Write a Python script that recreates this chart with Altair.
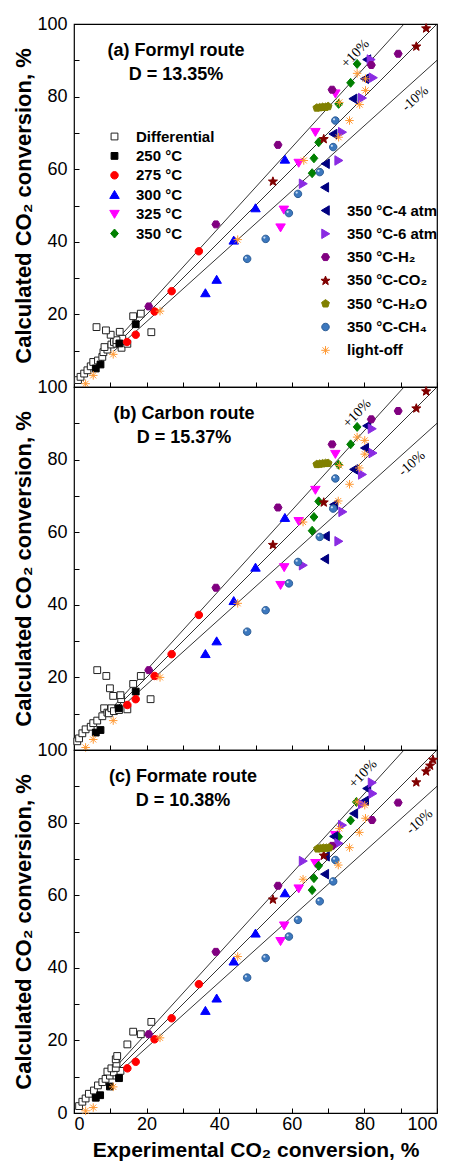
import math
import altair as alt
import pandas as pd

FONT = "Liberation Sans, Arial, sans-serif"
SERIF = "Liberation Serif, Times New Roman, serif"

# ---- series names ----
LEFT_SERIES = ["Differential", "250 °C", "275 °C", "300 °C", "325 °C", "350 °C"]
RIGHT_SERIES = ["350 °C-4 atm", "350 °C-6 atm", "350 °C-H₂", "350 °C-CO₂",
                "350 °C-H₂O", "350 °C-CH₄", "light-off"]

# ---- (a) Formyl route: (experimental, calculated) ----
a_diff = [(1.1, 1.9), (1.8, 2.8), (2.8, 3.7), (3.7, 4.6), (4.6, 5.7), (5.3, 6.9), (6.6, 7.3),
          (7.8, 8.3), (8.1, 9.6), (9.2, 10.3), (8.4, 11.0), (10.3, 11.7), (11.0, 12.4),
          (11.7, 11.9), (13.1, 10.8), (14.7, 11.9), (13.3, 13.3), (11.7, 12.9), (10.1, 14.4),
          (12.6, 15.2), (8.8, 15.6), (6.2, 16.5), (16.3, 19.5), (18.4, 20.2), (21.3, 15.1)]
a_250 = [(6.0, 5.1), (7.3, 6.2), (12.5, 12.0), (17.0, 17.3)]
a_275 = [(14.6, 12.4), (17.0, 14.4), (22.2, 20.8), (26.9, 26.4), (34.4, 37.4)]
a_300 = [(36.2, 25.9), (39.3, 29.6), (44.0, 40.4), (50.0, 49.3), (58.1, 62.7)]
a_325 = [(56.9, 43.9), (57.8, 48.8), (61.9, 61.7), (66.5, 70.2), (72.0, 80.8)]
a_350 = [(65.6, 58.9), (66.1, 63.0), (67.4, 67.4), (72.9, 78.0), (76.2, 83.8), (78.0, 89.0)]
a_4atm = [(69.1, 55.0), (69.3, 61.5), (71.4, 69.7), (76.9, 79.4), (80.1, 84.9), (80.7, 90.2)]
a_6atm = [(63.1, 56.0), (72.9, 62.4), (73.9, 70.2), (79.4, 79.6), (82.4, 85.2), (81.8, 90.2)]
a_h2 = [(20.6, 22.2), (39.1, 44.8), (56.2, 66.7), (71.1, 81.9), (81.9, 88.7), (89.3, 91.8)]
a_co2 = [(54.8, 56.7), (68.8, 68.4), (94.3, 93.9), (97.0, 98.9)]
a_h2o = [(66.9, 76.9), (67.7, 77.0), (68.5, 77.1), (69.3, 77.1), (70.0, 77.3)]
a_ch4 = [(47.7, 35.3), (52.8, 40.8), (59.2, 47.9), (61.7, 53.2), (67.7, 59.2), (71.4, 66.1), (72.0, 73.4)]
a_light = [(3.2, 0.9), (5.3, 3.2), (10.8, 9.0), (23.7, 20.9), (45.1, 40.6), (63.3, 62.4), (72.9, 68.8),
           (75.9, 73.4), (73.1, 78.4), (78.7, 77.8), (80.3, 81.7), (80.3, 84.9), (78.0, 86.4)]

# ---- (b) Carbon route ----
b_diff = [(0.9, 2.4), (1.4, 3.2), (2.3, 4.6), (3.2, 5.7), (4.6, 6.4), (5.3, 7.4), (6.4, 8.1),
          (7.8, 9.3), (8.3, 11.5), (9.2, 10.3), (9.6, 10.1), (10.3, 11.5), (11.0, 10.7),
          (12.4, 11.0), (14.7, 11.2), (13.0, 14.0), (12.8, 15.1), (10.8, 14.9), (9.9, 17.0),
          (8.9, 20.4), (6.4, 22.0), (16.3, 18.2), (18.4, 20.4), (21.1, 14.0)]
b_250 = [(6.0, 4.8), (7.3, 5.5), (12.3, 11.5), (17.0, 16.1)]
b_275 = [(14.7, 12.4), (17.0, 14.0), (22.2, 20.4), (26.9, 26.4), (34.4, 37.2)]
b_300 = [(36.2, 26.5), (39.3, 30.0), (44.0, 41.1), (50.0, 50.3), (58.1, 64.0)]
b_325 = [(56.9, 45.4), (57.9, 50.3), (61.9, 63.0), (66.5, 71.6), (72.0, 81.5)]
b_350 = [(65.6, 60.4), (66.1, 64.2), (67.4, 68.5), (72.9, 78.6), (76.2, 84.2), (78.0, 89.0)]
b_4atm = [(69.1, 52.6), (69.3, 58.9), (71.6, 67.6), (77.1, 77.3), (80.1, 83.2), (80.7, 89.3)]
b_6atm = [(63.1, 50.9), (72.9, 57.5), (74.0, 65.6), (79.4, 75.9), (82.3, 81.8), (82.1, 88.5)]
b_h2 = [(20.6, 22.0), (39.1, 44.7), (56.2, 66.8), (71.1, 84.2), (81.9, 91.1), (89.3, 93.4)]
b_co2 = [(54.8, 56.6), (68.8, 68.3), (94.3, 94.2), (97.0, 98.9)]
b_h2o = [(66.9, 78.7), (67.7, 78.8), (68.5, 78.9), (69.3, 79.0), (70.0, 79.0)]
b_ch4 = [(47.7, 32.6), (52.8, 38.5), (59.2, 45.9), (61.7, 51.8), (67.7, 58.7), (71.4, 66.5), (72.0, 74.8)]
b_light = [(3.2, 0.7), (5.3, 2.9), (10.8, 8.1), (23.7, 20.0), (45.1, 40.4), (63.1, 62.8), (72.8, 68.6),
           (75.9, 73.2), (73.1, 78.4), (78.6, 77.7), (80.1, 81.5), (80.1, 85.3), (78.0, 86.2)]

# ---- (c) Formate route ----
c_diff = [(1.4, 1.9), (2.3, 3.1), (3.2, 4.0), (4.1, 5.3), (5.5, 6.2), (6.6, 7.6), (7.8, 8.5),
          (8.7, 9.4), (9.9, 10.3), (11.7, 10.3), (9.2, 11.4), (11.0, 11.2), (12.8, 11.6),
          (10.3, 12.3), (11.5, 12.4), (11.7, 13.6), (11.5, 14.8), (11.9, 15.7), (14.7, 18.9),
          (16.3, 22.4), (18.4, 21.7), (21.3, 25.1)]
c_250 = [(6.0, 4.2), (7.2, 4.9), (9.9, 7.3), (12.4, 9.6)]
c_275 = [(14.7, 12.3), (17.0, 14.1), (22.2, 20.3), (26.9, 26.1), (34.4, 35.5)]
c_300 = [(36.2, 28.2), (39.3, 31.6), (44.0, 41.8), (50.0, 49.5), (58.1, 60.6)]
c_325 = [(56.9, 47.3), (57.9, 51.6), (61.9, 61.8), (66.5, 68.8), (72.0, 76.5)]
c_350 = [(65.6, 61.4), (66.1, 64.7), (67.4, 68.1), (72.9, 76.1), (76.2, 80.6), (77.8, 85.7)]
c_4atm = [(69.1, 65.8), (69.3, 70.7), (71.6, 76.2), (77.1, 82.5), (80.1, 86.0), (80.7, 89.4)]
c_6atm = [(63.1, 69.4), (72.9, 74.3), (73.9, 79.3), (79.4, 85.1), (82.3, 88.0), (82.1, 91.0)]
c_h2 = [(20.6, 21.7), (39.1, 44.4), (56.2, 62.6), (71.1, 73.6), (82.1, 80.7), (89.3, 85.5)]
c_co2 = [(54.8, 58.9), (68.8, 71.0), (94.3, 91.2), (97.0, 94.2), (98.1, 95.8), (98.9, 97.4)]
c_h2o = [(67.1, 72.8), (67.9, 72.9), (68.7, 73.0), (69.5, 73.0), (70.3, 73.1)]
c_ch4 = [(47.7, 37.3), (52.8, 42.7), (59.2, 48.6), (61.7, 53.2), (67.7, 58.3), (71.4, 63.8), (72.0, 69.7)]
c_light = [(3.2, 0.6), (5.3, 1.5), (10.8, 7.2), (23.7, 20.7), (45.1, 43.1), (63.1, 64.4), (72.8, 68.3),
           (75.9, 73.1), (73.1, 78.4), (78.6, 77.3), (80.3, 81.2), (80.1, 84.8), (78.0, 85.7)]

# ---- panel text ----
PANEL_TITLES = ["(a) Formyl route", "(b) Carbon route", "(c) Formate route"]
PANEL_D = ["D = 13.35%", "D = 15.37%", "D = 10.38%"]
# +10% / -10% label anchors (data units) per panel
PLUS_LABEL = [(77.5, 91.8), (78.0, 92.7), (79.6, 93.4)]
MINUS_LABEL = [(94.0, 79.4), (93.1, 78.9), (95.2, 80.2)]

# parity lines: slope, start x, end x
LINE_SLOPE = [1.1, 1.0, 0.9]
LINE_X0 = [11.0, 11.0, 11.0]
LINE_X1 = [100 / 1.1, 100.0, 100.0]

TICKS = list(range(0, 101, 10))


# ---- marker paths in the unit square ----
def polygon(n, r, rot=-90.0):
    pts = []
    for i in range(n):
        a = math.radians(rot + i * 360.0 / n)
        pts.append((r * math.cos(a), r * math.sin(a)))
    return "M" + "L".join(f"{x:.3f},{y:.3f}" for x, y in pts) + "Z"


def star(r_out=0.95, r_in=0.4):
    pts = []
    for i in range(10):
        r = r_out if i % 2 == 0 else r_in
        a = math.radians(-90 + i * 36)
        pts.append((r * math.cos(a), r * math.sin(a) + 0.08))
    return "M" + "L".join(f"{x:.3f},{y:.3f}" for x, y in pts) + "Z"


def circle(r):
    return f"M{-r},0A{r},{r} 0 1,0 {r},0A{r},{r} 0 1,0 {-r},0Z"


SQUARE = "M-0.68,-0.68L0.68,-0.68L0.68,0.68L-0.68,0.68Z"
TRI_UP = "M0,-0.85L0.95,0.75L-0.95,0.75Z"
TRI_DOWN = "M0,0.85L0.95,-0.75L-0.95,-0.75Z"
TRI_LEFT = "M-0.85,0L0.75,-0.95L0.75,0.95Z"
TRI_RIGHT = "M0.85,0L-0.75,-0.95L-0.75,0.95Z"
DIAMOND = "M0,-0.9L0.78,0L0,0.9L-0.78,0Z"
ASTERISK = ("M-0.85,0L0.85,0M0,-0.85L0,0.85"
            "M-0.6,-0.6L0.6,0.6M-0.6,0.6L0.6,-0.6")

LEFT_SHAPES = [SQUARE, SQUARE, circle(0.75), TRI_UP, TRI_DOWN, DIAMOND]
LEFT_FILL = ["white", "black", "#FF0000", "#0000FF", "#FF00FF", "#008000"]
LEFT_STROKE = ["#222222", "black", "#FF0000", "#0000FF", "#FF00FF", "#008000"]

RIGHT_SHAPES = [TRI_LEFT, TRI_RIGHT, polygon(6, 0.8, 0), star(), polygon(5, 0.82),
                circle(0.75), ASTERISK]
RIGHT_FILL = ["#000080", "#8A2BE2", "#800080", "#800000", "#808000", "#3C78BE", "#FF9933"]
RIGHT_STROKE = ["#000080", "#8A2BE2", "#800080", "#800000", "#808000", "#2B5C96", "#FF9933"]

XS = alt.Scale(domain=[0, 100], nice=False, zero=False)
YS = alt.Scale(domain=[0, 100], nice=False, zero=False)

LABEL_EXPR = "datum.value % 20 == 0 ? datum.label : ''"
# upper panels: the 0 at the bottom edge sits under the next panel's 100
LABEL_EXPR_NO0 = "datum.value % 20 == 0 && datum.value > 0 ? datum.label : ''"


def frame(names, groups):
    rows = []
    for name, pts in zip(names, groups):
        for x, y in pts:
            rows.append({"series": name, "x": x, "y": y})
    return pd.DataFrame(rows)


def legend(x, y, row_pad):
    return alt.Legend(orient="none", legendX=x, legendY=y, title=None, direction="vertical",
                      labelFont=FONT, labelFontSize=15, labelFontWeight="bold",
                      labelColor="black", labelOffset=14, rowPadding=row_pad,
                      symbolSize=100, symbolStrokeWidth=1, symbolOpacity=1, labelLimit=300)


def panel(i, left_groups, right_groups, bottom):
    if bottom:
        x_axis = alt.Axis(values=TICKS, labelExpr=LABEL_EXPR, tickSize=5, offset=-5,
                          domain=False, grid=False, labelPadding=2, labelFont=FONT,
                          labelFontSize=18, labelColor="black", tickColor="black",
                          title="Experimental CO₂ conversion, %", titleFont=FONT,
                          titleFontSize=21, titleFontWeight="bold", titleColor="black",
                          titlePadding=6)
    else:
        x_axis = alt.Axis(values=TICKS, labels=False, tickSize=5, offset=-5, domain=False,
                          grid=False, tickColor="black", title=None)
    y_axis = alt.Axis(values=TICKS, labelExpr=LABEL_EXPR if bottom else LABEL_EXPR_NO0,
                      tickSize=5, offset=-5,
                      domain=False, grid=False, labelPadding=7, labelFont=FONT,
                      labelFontSize=18, labelColor="black", tickColor="black",
                      title="Calculated CO₂ conversion, %", titleFont=FONT,
                      titleFontSize=22, titleFontWeight="bold", titleColor="black",
                      titlePadding=1)

    def xq(field):
        return alt.X(field, scale=XS, axis=x_axis)

    def yq(field):
        return alt.Y(field, scale=YS, axis=y_axis)

    lines = pd.DataFrame({
        "x0": LINE_X0,
        "x1": LINE_X1,
        "y0": [s * x for s, x in zip(LINE_SLOPE, LINE_X0)],
        "y1": [s * x for s, x in zip(LINE_SLOPE, LINE_X1)],
    })
    rules = alt.Chart(lines).mark_rule(color="black", strokeWidth=0.8).encode(
        x=xq("x0:Q"), y=yq("y0:Q"), x2="x1:Q", y2="y1:Q",
    )

    def point_layer(df, names, fills, strokes, shapes, leg):
        return alt.Chart(df).mark_point(size=100, opacity=1, fillOpacity=1, strokeWidth=1).encode(
            x=xq("x:Q"),
            y=yq("y:Q"),
            fill=alt.Fill("series:N", scale=alt.Scale(domain=names, range=fills), legend=leg),
            stroke=alt.Stroke("series:N", scale=alt.Scale(domain=names, range=strokes), legend=leg),
            shape=alt.Shape("series:N", scale=alt.Scale(domain=names, range=shapes), legend=leg),
        )

    left_leg = legend(33, 105, 3.4) if i == 0 else None
    right_leg = legend(244, 179, 7.3) if i == 0 else None
    left = point_layer(frame(LEFT_SERIES, left_groups), LEFT_SERIES,
                       LEFT_FILL, LEFT_STROKE, LEFT_SHAPES, left_leg)
    right_df = frame(RIGHT_SERIES, right_groups)
    right = point_layer(right_df, RIGHT_SERIES, RIGHT_FILL, RIGHT_STROKE, RIGHT_SHAPES, right_leg)

    # small highlight on the CH4 spheres
    shine = alt.Chart(right_df[right_df["series"] == "350 °C-CH₄"]).mark_circle(
        size=5, color="#C9DDF3", opacity=1, xOffset=-1.3, yOffset=-1.3
    ).encode(x=xq("x:Q"), y=yq("y:Q"))

    cx = [102, 110, 109][i]
    heads = pd.DataFrame({"t": [PANEL_TITLES[i]]})
    dline = pd.DataFrame({"t": [PANEL_D[i]]})
    head_text = alt.Chart(heads).mark_text(
        font=FONT, fontSize=18, fontWeight="bold", color="black", align="center",
        baseline="middle").encode(x=alt.value(cx), y=alt.value(27), text="t:N")
    d_text = alt.Chart(dline).mark_text(
        font=FONT, fontSize=18, fontWeight="bold", color="black", align="center",
        baseline="middle").encode(x=alt.value(cx), y=alt.value(51), text="t:N")

    band_df = pd.DataFrame({
        "x": [PLUS_LABEL[i][0], MINUS_LABEL[i][0]],
        "y": [PLUS_LABEL[i][1], MINUS_LABEL[i][1]],
        "t": ["+10%", "-10%"],
        "ang": [314, 318],
    })
    band_text = alt.Chart(band_df).mark_text(
        font=SERIF, fontSize=14, color="black", align="center", baseline="middle"
    ).encode(
        x=xq("x:Q"),
        y=yq("y:Q"),
        text="t:N",
        angle=alt.Angle("ang:Q", scale=None),
    )

    return alt.layer(rules, left, right, shine, head_text, d_text, band_text).resolve_scale(
        fill="independent", stroke="independent", shape="independent"
    ).properties(width=363, height=363)


pa = panel(0, [a_diff, a_250, a_275, a_300, a_325, a_350],
           [a_4atm, a_6atm, a_h2, a_co2, a_h2o, a_ch4, a_light], False)
pb = panel(1, [b_diff, b_250, b_275, b_300, b_325, b_350],
           [b_4atm, b_6atm, b_h2, b_co2, b_h2o, b_ch4, b_light], False)
pc = panel(2, [c_diff, c_250, c_275, c_300, c_325, c_350],
           [c_4atm, c_6atm, c_h2, c_co2, c_h2o, c_ch4, c_light], True)

chart = alt.vconcat(pa, pb, pc, spacing=0, bounds="flush").resolve_scale(
    fill="independent", stroke="independent", shape="independent"
).properties(
    padding={"left": 12, "top": 14, "right": 5, "bottom": 0},
    background="white",
).configure_view(stroke="black", strokeWidth=1.2)

chart.save("out.html", embed_options={"renderer": "svg", "actions": False})
